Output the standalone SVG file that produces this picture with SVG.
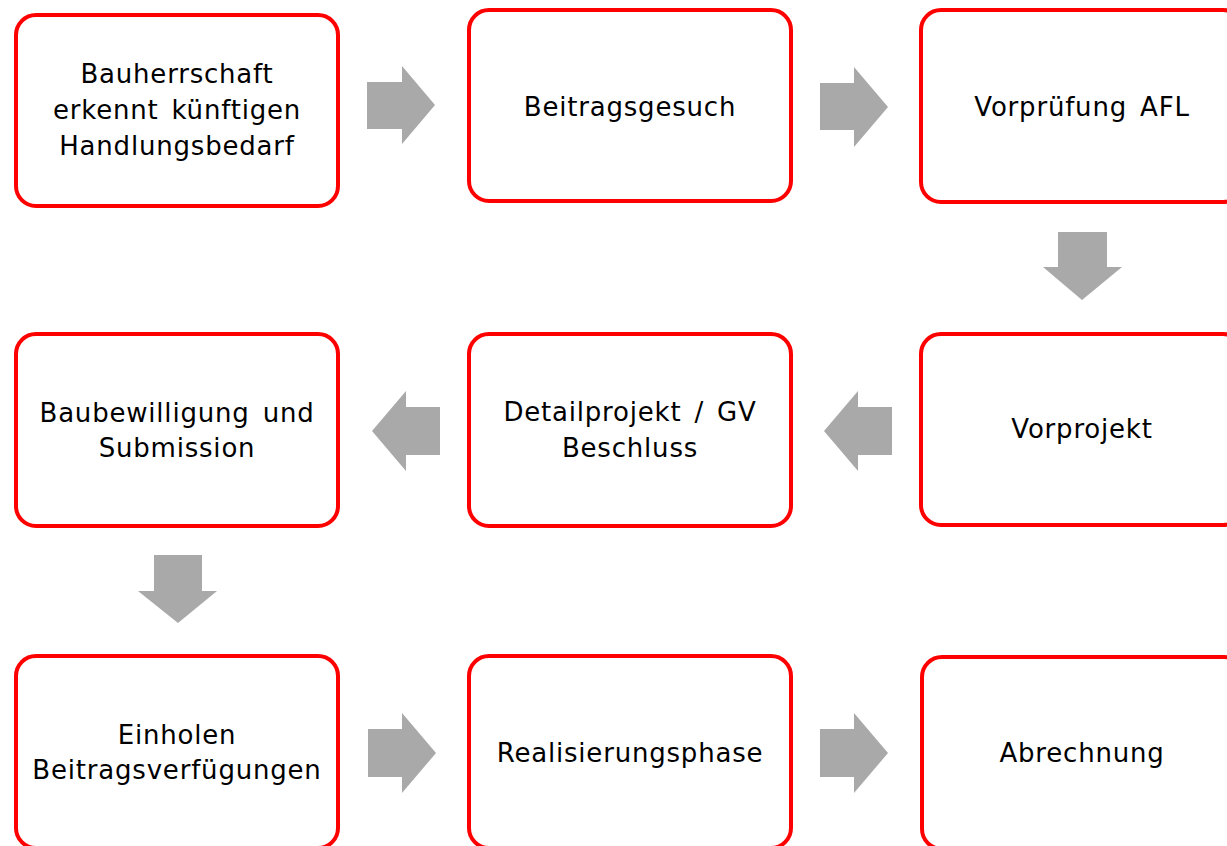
<svg xmlns="http://www.w3.org/2000/svg" width="1227" height="846" viewBox="0 0 1227 846">
<style>
.box{fill:#fff;stroke:#ff0000;stroke-width:4}
.lbl{font-family:"DejaVu Sans",Verdana,sans-serif;font-size:26px;letter-spacing:0.8px;word-spacing:4px;fill:#000;text-anchor:middle}
.arr{fill:#a9a9a9}
</style>
<rect width="1227" height="846" fill="#fff"/>
<g id="connectors">
<polygon class="arr" points="367,82 402,82 402,66 435,105 402,144 402,129 367,129"/>
<polygon class="arr" points="820,83 854,83 854,67 888,107 854,147 854,130 820,130"/>
<polygon class="arr" points="1058,232 1107,232 1107,267 1122,267 1082,300 1043,267 1058,267"/>
<polygon class="arr" points="892,407 858,407 858,391 824,431 858,471 858,455 892,455"/>
<polygon class="arr" points="440,407 406,407 406,391 372,431 406,471 406,455 440,455"/>
<polygon class="arr" points="154,555 202,555 202,591 217,591 178,623 138,591 154,591"/>
<polygon class="arr" points="368,729 402,729 402,713 436,753 402,793 402,777 368,777"/>
<polygon class="arr" points="820,729 854,729 854,713 888,753 854,793 854,777 820,777"/>
</g>
<g id="n1"><rect class="box" x="16" y="15" width="322" height="191" rx="20"/>
<text class="lbl" x="177" y="83">Bauherrschaft</text><text class="lbl" x="177" y="119">erkennt künftigen</text><text class="lbl" x="177" y="155">Handlungsbedarf</text></g>
<g id="n2"><rect class="box" x="469" y="10" width="322" height="191" rx="20"/>
<text class="lbl" x="630" y="116">Beitragsgesuch</text></g>
<g id="n3"><rect class="box" x="921" y="10" width="322" height="192" rx="20"/>
<text class="lbl" x="1082" y="116">Vorprüfung AFL</text></g>
<g id="n4"><rect class="box" x="921" y="334" width="322" height="191" rx="20"/>
<text class="lbl" x="1082" y="438">Vorprojekt</text></g>
<g id="n5"><rect class="box" x="469" y="334" width="322" height="192" rx="20"/>
<text class="lbl" x="630" y="421">Detailprojekt / GV</text><text class="lbl" x="630" y="457">Beschluss</text></g>
<g id="n6"><rect class="box" x="16" y="334" width="322" height="192" rx="20"/>
<text class="lbl" x="177" y="422">Baubewilligung und</text><text class="lbl" x="177" y="457">Submission</text></g>
<g id="n7"><rect class="box" x="16" y="656" width="322" height="192" rx="20"/>
<text class="lbl" x="177" y="744">Einholen</text><text class="lbl" x="177" y="779">Beitragsverfügungen</text></g>
<g id="n8"><rect class="box" x="469" y="656" width="322" height="192" rx="20"/>
<text class="lbl" x="630" y="762">Realisierungsphase</text></g>
<g id="n9"><rect class="box" x="922" y="657" width="322" height="192" rx="20"/>
<text class="lbl" x="1082" y="762">Abrechnung</text></g>
</svg>
